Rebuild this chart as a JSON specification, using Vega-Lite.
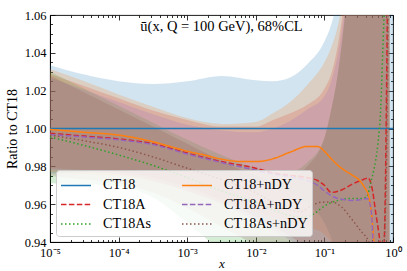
{
  "$schema": "https://vega.github.io/schema/vega-lite/v6.json",
  "width": 343,
  "height": 227,
  "autosize": {"type": "none"},
  "padding": {"left": 50, "top": 15, "right": 14, "bottom": 29},
  "background": "white",
  "config": {
    "font": "Liberation Serif",
    "view": {"stroke": "black", "strokeWidth": 0.9},
    "axis": {
      "labelFont": "Liberation Serif", "labelFontSize": 12.5, "labelColor": "black",
      "titleFont": "Liberation Serif", "titleFontSize": 14, "titleFontWeight": "normal", "titleColor": "black",
      "domainColor": "black", "domainWidth": 0.9, "ticks": false,
      "grid": true, "gridColor": "black", "gridWidth": 0.8, "gridOpacity": 1,
      "labelOverlap": false, "labelBound": false, "labelFlush": false, "zindex": 1
    },
    "legend": {
      "orient": "bottom-left", "offset": 6, "columns": 2, "columnPadding": 27, "rowPadding": 0.5, "padding": 4,
      "fillColor": "rgba(255,255,255,0.8)", "strokeColor": "#cccccc", "cornerRadius": 3,
      "symbolType": "M-1,0H2", "symbolSize": 400, "symbolStrokeWidth": 1.5,
      "labelFont": "Liberation Serif", "labelFontSize": 14.2, "labelColor": "black", "labelOffset": 21, "labelLimit": 200
    }
  },
  "title": {"text": "ū(x, Q = 100 GeV),  68%CL", "font": "Liberation Serif", "fontSize": 14.5, "fontWeight": "normal", "color": "black", "anchor": "middle", "frame": "group", "baseline": "alphabetic", "offset": -36},
  "datasets": {
    "bands": [
      {"band": "CT18", "x": 1e-5, "lo": 0.976, "hi": 1.0335},
      {"band": "CT18", "x": 3.162e-5, "lo": 0.977, "hi": 1.0285},
      {"band": "CT18", "x": 1e-4, "lo": 0.978, "hi": 1.025},
      {"band": "CT18", "x": 3.162e-4, "lo": 0.978, "hi": 1.0235},
      {"band": "CT18", "x": 1e-3, "lo": 0.977, "hi": 1.025},
      {"band": "CT18", "x": 3.162e-3, "lo": 0.975, "hi": 1.0278},
      {"band": "CT18", "x": 0.01, "lo": 0.972, "hi": 1.0255},
      {"band": "CT18", "x": 0.01778, "lo": 0.970, "hi": 1.025},
      {"band": "CT18", "x": 0.03162, "lo": 0.966, "hi": 1.027},
      {"band": "CT18", "x": 0.05623, "lo": 0.960, "hi": 1.034},
      {"band": "CT18", "x": 0.1, "lo": 0.950, "hi": 1.046},
      {"band": "CT18", "x": 0.1259, "lo": 0.942, "hi": 1.055},
      {"band": "CT18", "x": 0.1585, "lo": 0.930, "hi": 1.07},
      {"band": "CT18", "x": 0.1995, "lo": 0.915, "hi": 1.09},
      {"band": "CT18", "x": 0.2512, "lo": 0.900, "hi": 1.11},
      {"band": "CT18", "x": 0.3162, "lo": 0.880, "hi": 1.14},
      {"band": "CT18", "x": 0.3981, "lo": 0.860, "hi": 1.17},
      {"band": "CT18", "x": 0.5012, "lo": 0.840, "hi": 1.2},
      {"band": "CT18", "x": 0.631, "lo": 0.800, "hi": 1.25},
      {"band": "CT18", "x": 0.7943, "lo": 0.750, "hi": 1.3},
      {"band": "CT18", "x": 0.8913, "lo": 0.700, "hi": 1.35},
      {"band": "CT18", "x": 1.0, "lo": 0.600, "hi": 1.5},
      {"band": "CT18A", "x": 1e-5, "lo": 0.979, "hi": 1.029},
      {"band": "CT18A", "x": 3.162e-5, "lo": 0.978, "hi": 1.0225},
      {"band": "CT18A", "x": 1e-4, "lo": 0.977, "hi": 1.016},
      {"band": "CT18A", "x": 3.162e-4, "lo": 0.974, "hi": 1.0095},
      {"band": "CT18A", "x": 1e-3, "lo": 0.969, "hi": 1.0045},
      {"band": "CT18A", "x": 3.162e-3, "lo": 0.962, "hi": 1.001},
      {"band": "CT18A", "x": 0.01, "lo": 0.953, "hi": 1.001},
      {"band": "CT18A", "x": 0.01778, "lo": 0.948, "hi": 1.0045},
      {"band": "CT18A", "x": 0.03162, "lo": 0.943, "hi": 1.008},
      {"band": "CT18A", "x": 0.05623, "lo": 0.937, "hi": 1.0125},
      {"band": "CT18A", "x": 0.1, "lo": 0.930, "hi": 1.021},
      {"band": "CT18A", "x": 0.1259, "lo": 0.925, "hi": 1.029},
      {"band": "CT18A", "x": 0.1585, "lo": 0.920, "hi": 1.045},
      {"band": "CT18A", "x": 0.1995, "lo": 0.910, "hi": 1.07},
      {"band": "CT18A", "x": 0.2512, "lo": 0.900, "hi": 1.1},
      {"band": "CT18A", "x": 0.3162, "lo": 0.890, "hi": 1.13},
      {"band": "CT18A", "x": 0.3981, "lo": 0.870, "hi": 1.16},
      {"band": "CT18A", "x": 0.5012, "lo": 0.850, "hi": 1.2},
      {"band": "CT18A", "x": 0.631, "lo": 0.820, "hi": 1.25},
      {"band": "CT18A", "x": 0.7943, "lo": 0.780, "hi": 1.3},
      {"band": "CT18A", "x": 0.8913, "lo": 0.750, "hi": 1.35},
      {"band": "CT18As", "x": 1e-5, "lo": 0.971, "hi": 1.030},
      {"band": "CT18As", "x": 3.162e-5, "lo": 0.9705, "hi": 1.021},
      {"band": "CT18As", "x": 1e-4, "lo": 0.9695, "hi": 1.012},
      {"band": "CT18As", "x": 3.162e-4, "lo": 0.9635, "hi": 1.003},
      {"band": "CT18As", "x": 1e-3, "lo": 0.950, "hi": 0.994},
      {"band": "CT18As", "x": 3.162e-3, "lo": 0.935, "hi": 0.986},
      {"band": "CT18As", "x": 0.01, "lo": 0.920, "hi": 0.979},
      {"band": "CT18As", "x": 0.01778, "lo": 0.910, "hi": 0.977},
      {"band": "CT18As", "x": 0.03162, "lo": 0.900, "hi": 0.977},
      {"band": "CT18As", "x": 0.05623, "lo": 0.890, "hi": 0.982},
      {"band": "CT18As", "x": 0.1, "lo": 0.880, "hi": 0.995},
      {"band": "CT18As", "x": 0.1259, "lo": 0.870, "hi": 1.01},
      {"band": "CT18As", "x": 0.1585, "lo": 0.860, "hi": 1.03},
      {"band": "CT18As", "x": 0.1995, "lo": 0.850, "hi": 1.06},
      {"band": "CT18As", "x": 0.2512, "lo": 0.840, "hi": 1.1},
      {"band": "CT18As", "x": 0.3162, "lo": 0.820, "hi": 1.15},
      {"band": "CT18As", "x": 0.3981, "lo": 0.800, "hi": 1.2},
      {"band": "CT18As", "x": 0.5012, "lo": 0.780, "hi": 1.25},
      {"band": "CT18As", "x": 0.631, "lo": 0.750, "hi": 1.3},
      {"band": "CT18As", "x": 0.7943, "lo": 0.700, "hi": 1.35},
      {"band": "CT18As", "x": 0.8913, "lo": 0.650, "hi": 1.4},
      {"band": "CT18+nDY", "x": 1e-5, "lo": 0.977, "hi": 1.0315},
      {"band": "CT18+nDY", "x": 3.162e-5, "lo": 0.976, "hi": 1.025},
      {"band": "CT18+nDY", "x": 1e-4, "lo": 0.975, "hi": 1.018},
      {"band": "CT18+nDY", "x": 3.162e-4, "lo": 0.972, "hi": 1.0115},
      {"band": "CT18+nDY", "x": 1e-3, "lo": 0.967, "hi": 1.0055},
      {"band": "CT18+nDY", "x": 3.162e-3, "lo": 0.961, "hi": 1.0024},
      {"band": "CT18+nDY", "x": 0.01, "lo": 0.956, "hi": 1.0035},
      {"band": "CT18+nDY", "x": 0.01778, "lo": 0.953, "hi": 1.008},
      {"band": "CT18+nDY", "x": 0.03162, "lo": 0.951, "hi": 1.014},
      {"band": "CT18+nDY", "x": 0.05623, "lo": 0.948, "hi": 1.023},
      {"band": "CT18+nDY", "x": 0.1, "lo": 0.944, "hi": 1.035},
      {"band": "CT18+nDY", "x": 0.1259, "lo": 0.940, "hi": 1.043},
      {"band": "CT18+nDY", "x": 0.1585, "lo": 0.935, "hi": 1.055},
      {"band": "CT18+nDY", "x": 0.1995, "lo": 0.930, "hi": 1.075},
      {"band": "CT18+nDY", "x": 0.2512, "lo": 0.920, "hi": 1.1},
      {"band": "CT18+nDY", "x": 0.3162, "lo": 0.900, "hi": 1.13},
      {"band": "CT18+nDY", "x": 0.3981, "lo": 0.880, "hi": 1.16},
      {"band": "CT18+nDY", "x": 0.5012, "lo": 0.850, "hi": 1.2},
      {"band": "CT18+nDY", "x": 0.631, "lo": 0.800, "hi": 1.25},
      {"band": "CT18+nDY", "x": 0.7943, "lo": 0.750, "hi": 1.3},
      {"band": "CT18+nDY", "x": 0.8913, "lo": 0.700, "hi": 1.35},
      {"band": "CT18A+nDY", "x": 1e-5, "lo": 0.978, "hi": 1.027},
      {"band": "CT18A+nDY", "x": 3.162e-5, "lo": 0.977, "hi": 1.0205},
      {"band": "CT18A+nDY", "x": 1e-4, "lo": 0.976, "hi": 1.014},
      {"band": "CT18A+nDY", "x": 3.162e-4, "lo": 0.9725, "hi": 1.0075},
      {"band": "CT18A+nDY", "x": 1e-3, "lo": 0.967, "hi": 1.002},
      {"band": "CT18A+nDY", "x": 3.162e-3, "lo": 0.960, "hi": 0.999},
      {"band": "CT18A+nDY", "x": 0.01, "lo": 0.951, "hi": 0.998},
      {"band": "CT18A+nDY", "x": 0.01778, "lo": 0.946, "hi": 1.0},
      {"band": "CT18A+nDY", "x": 0.03162, "lo": 0.941, "hi": 1.004},
      {"band": "CT18A+nDY", "x": 0.05623, "lo": 0.935, "hi": 1.01},
      {"band": "CT18A+nDY", "x": 0.1, "lo": 0.928, "hi": 1.017},
      {"band": "CT18A+nDY", "x": 0.1259, "lo": 0.922, "hi": 1.025},
      {"band": "CT18A+nDY", "x": 0.1585, "lo": 0.915, "hi": 1.04},
      {"band": "CT18A+nDY", "x": 0.1995, "lo": 0.905, "hi": 1.065},
      {"band": "CT18A+nDY", "x": 0.2512, "lo": 0.895, "hi": 1.1},
      {"band": "CT18A+nDY", "x": 0.3162, "lo": 0.880, "hi": 1.13},
      {"band": "CT18A+nDY", "x": 0.3981, "lo": 0.860, "hi": 1.16},
      {"band": "CT18A+nDY", "x": 0.5012, "lo": 0.840, "hi": 1.2},
      {"band": "CT18A+nDY", "x": 0.631, "lo": 0.800, "hi": 1.25},
      {"band": "CT18A+nDY", "x": 0.7943, "lo": 0.750, "hi": 1.3},
      {"band": "CT18A+nDY", "x": 0.8913, "lo": 0.700, "hi": 1.35},
      {"band": "CT18As+nDY", "x": 1e-5, "lo": 0.975, "hi": 1.028},
      {"band": "CT18As+nDY", "x": 3.162e-5, "lo": 0.973, "hi": 1.019},
      {"band": "CT18As+nDY", "x": 1e-4, "lo": 0.971, "hi": 1.010},
      {"band": "CT18As+nDY", "x": 3.162e-4, "lo": 0.966, "hi": 1.001},
      {"band": "CT18As+nDY", "x": 1e-3, "lo": 0.958, "hi": 0.992},
      {"band": "CT18As+nDY", "x": 3.162e-3, "lo": 0.948, "hi": 0.983},
      {"band": "CT18As+nDY", "x": 0.01, "lo": 0.938, "hi": 0.975},
      {"band": "CT18As+nDY", "x": 0.01778, "lo": 0.932, "hi": 0.972},
      {"band": "CT18As+nDY", "x": 0.03162, "lo": 0.926, "hi": 0.973},
      {"band": "CT18As+nDY", "x": 0.05623, "lo": 0.920, "hi": 0.980},
      {"band": "CT18As+nDY", "x": 0.1, "lo": 0.910, "hi": 0.995},
      {"band": "CT18As+nDY", "x": 0.1259, "lo": 0.900, "hi": 1.01},
      {"band": "CT18As+nDY", "x": 0.1585, "lo": 0.890, "hi": 1.03},
      {"band": "CT18As+nDY", "x": 0.1995, "lo": 0.880, "hi": 1.06},
      {"band": "CT18As+nDY", "x": 0.2512, "lo": 0.870, "hi": 1.1},
      {"band": "CT18As+nDY", "x": 0.3162, "lo": 0.850, "hi": 1.15},
      {"band": "CT18As+nDY", "x": 0.3981, "lo": 0.830, "hi": 1.2},
      {"band": "CT18As+nDY", "x": 0.5012, "lo": 0.800, "hi": 1.25},
      {"band": "CT18As+nDY", "x": 0.631, "lo": 0.750, "hi": 1.3},
      {"band": "CT18As+nDY", "x": 0.7943, "lo": 0.700, "hi": 1.35},
      {"band": "CT18As+nDY", "x": 0.8913, "lo": 0.650, "hi": 1.4}
    ],
    "lines": [
      {"set": "CT18", "x": 1e-5, "y": 1.0},
      {"set": "CT18", "x": 1.0, "y": 1.0},
      {"set": "CT18A", "x": 1e-5, "y": 0.9975},
      {"set": "CT18A", "x": 3.162e-5, "y": 0.996},
      {"set": "CT18A", "x": 1e-4, "y": 0.9945},
      {"set": "CT18A", "x": 3.162e-4, "y": 0.992},
      {"set": "CT18A", "x": 1e-3, "y": 0.987},
      {"set": "CT18A", "x": 3.162e-3, "y": 0.9825},
      {"set": "CT18A", "x": 0.01, "y": 0.979},
      {"set": "CT18A", "x": 0.01778, "y": 0.9765},
      {"set": "CT18A", "x": 0.03162, "y": 0.9752},
      {"set": "CT18A", "x": 0.05623, "y": 0.974},
      {"set": "CT18A", "x": 0.07943, "y": 0.9725},
      {"set": "CT18A", "x": 0.1, "y": 0.970},
      {"set": "CT18A", "x": 0.1259, "y": 0.9662},
      {"set": "CT18A", "x": 0.1778, "y": 0.9675},
      {"set": "CT18A", "x": 0.2512, "y": 0.9705},
      {"set": "CT18A", "x": 0.3548, "y": 0.9728},
      {"set": "CT18A", "x": 0.4365, "y": 0.9738},
      {"set": "CT18A", "x": 0.5012, "y": 0.9675},
      {"set": "CT18A", "x": 0.5623, "y": 0.955},
      {"set": "CT18A", "x": 0.6457, "y": 0.94},
      {"set": "CT18A", "x": 0.7079, "y": 0.925},
      {"set": "CT18A", "x": 0.7586, "y": 0.95},
      {"set": "CT18A", "x": 0.7943, "y": 1.0},
      {"set": "CT18A", "x": 0.8318, "y": 1.07},
      {"set": "CT18As", "x": 1e-5, "y": 0.9955},
      {"set": "CT18As", "x": 3.162e-5, "y": 0.991},
      {"set": "CT18As", "x": 1e-4, "y": 0.986},
      {"set": "CT18As", "x": 3.162e-4, "y": 0.9805},
      {"set": "CT18As", "x": 1e-3, "y": 0.974},
      {"set": "CT18As", "x": 3.162e-3, "y": 0.967},
      {"set": "CT18As", "x": 0.01, "y": 0.961},
      {"set": "CT18As", "x": 0.01778, "y": 0.957},
      {"set": "CT18As", "x": 0.03162, "y": 0.954},
      {"set": "CT18As", "x": 0.05012, "y": 0.953},
      {"set": "CT18As", "x": 0.07079, "y": 0.955},
      {"set": "CT18As", "x": 0.1, "y": 0.959},
      {"set": "CT18As", "x": 0.1585, "y": 0.962},
      {"set": "CT18As", "x": 0.2512, "y": 0.963},
      {"set": "CT18As", "x": 0.3548, "y": 0.963},
      {"set": "CT18As", "x": 0.4169, "y": 0.964},
      {"set": "CT18As", "x": 0.4786, "y": 0.972},
      {"set": "CT18As", "x": 0.5248, "y": 0.978},
      {"set": "CT18As", "x": 0.6026, "y": 0.992},
      {"set": "CT18As", "x": 0.6607, "y": 1.01},
      {"set": "CT18As", "x": 0.7079, "y": 1.04},
      {"set": "CT18As", "x": 0.7586, "y": 1.07},
      {"set": "CT18+nDY", "x": 1e-5, "y": 0.9995},
      {"set": "CT18+nDY", "x": 3.162e-5, "y": 0.998},
      {"set": "CT18+nDY", "x": 1e-4, "y": 0.9965},
      {"set": "CT18+nDY", "x": 3.162e-4, "y": 0.993},
      {"set": "CT18+nDY", "x": 5.623e-4, "y": 0.9905},
      {"set": "CT18+nDY", "x": 1e-3, "y": 0.988},
      {"set": "CT18+nDY", "x": 1.778e-3, "y": 0.986},
      {"set": "CT18+nDY", "x": 3.162e-3, "y": 0.9838},
      {"set": "CT18+nDY", "x": 5.623e-3, "y": 0.9826},
      {"set": "CT18+nDY", "x": 0.01, "y": 0.9825},
      {"set": "CT18+nDY", "x": 0.01778, "y": 0.984},
      {"set": "CT18+nDY", "x": 0.03162, "y": 0.9875},
      {"set": "CT18+nDY", "x": 0.05623, "y": 0.9905},
      {"set": "CT18+nDY", "x": 0.07943, "y": 0.9905},
      {"set": "CT18+nDY", "x": 0.1, "y": 0.988},
      {"set": "CT18+nDY", "x": 0.1259, "y": 0.984},
      {"set": "CT18+nDY", "x": 0.1778, "y": 0.979},
      {"set": "CT18+nDY", "x": 0.2512, "y": 0.9755},
      {"set": "CT18+nDY", "x": 0.3162, "y": 0.973},
      {"set": "CT18+nDY", "x": 0.3981, "y": 0.968},
      {"set": "CT18+nDY", "x": 0.4365, "y": 0.965},
      {"set": "CT18+nDY", "x": 0.4786, "y": 0.957},
      {"set": "CT18+nDY", "x": 0.5012, "y": 0.95},
      {"set": "CT18+nDY", "x": 0.537, "y": 0.935},
      {"set": "CT18A+nDY", "x": 1e-5, "y": 0.9968},
      {"set": "CT18A+nDY", "x": 3.162e-5, "y": 0.9955},
      {"set": "CT18A+nDY", "x": 1e-4, "y": 0.994},
      {"set": "CT18A+nDY", "x": 3.162e-4, "y": 0.9915},
      {"set": "CT18A+nDY", "x": 1e-3, "y": 0.9865},
      {"set": "CT18A+nDY", "x": 3.162e-3, "y": 0.982},
      {"set": "CT18A+nDY", "x": 0.01, "y": 0.978},
      {"set": "CT18A+nDY", "x": 0.01778, "y": 0.976},
      {"set": "CT18A+nDY", "x": 0.03162, "y": 0.9745},
      {"set": "CT18A+nDY", "x": 0.05623, "y": 0.9725},
      {"set": "CT18A+nDY", "x": 0.07943, "y": 0.970},
      {"set": "CT18A+nDY", "x": 0.1, "y": 0.967},
      {"set": "CT18A+nDY", "x": 0.1259, "y": 0.9645},
      {"set": "CT18A+nDY", "x": 0.1585, "y": 0.963},
      {"set": "CT18A+nDY", "x": 0.2512, "y": 0.962},
      {"set": "CT18A+nDY", "x": 0.3548, "y": 0.9625},
      {"set": "CT18A+nDY", "x": 0.4266, "y": 0.963},
      {"set": "CT18A+nDY", "x": 0.4786, "y": 0.957},
      {"set": "CT18A+nDY", "x": 0.5129, "y": 0.94},
      {"set": "CT18A+nDY", "x": 0.537, "y": 0.92},
      {"set": "CT18As+nDY", "x": 1e-5, "y": 0.9965},
      {"set": "CT18As+nDY", "x": 3.162e-5, "y": 0.9935},
      {"set": "CT18As+nDY", "x": 1e-4, "y": 0.99},
      {"set": "CT18As+nDY", "x": 3.162e-4, "y": 0.985},
      {"set": "CT18As+nDY", "x": 1e-3, "y": 0.979},
      {"set": "CT18As+nDY", "x": 3.162e-3, "y": 0.973},
      {"set": "CT18As+nDY", "x": 0.01, "y": 0.966},
      {"set": "CT18As+nDY", "x": 0.01778, "y": 0.961},
      {"set": "CT18As+nDY", "x": 0.03162, "y": 0.957},
      {"set": "CT18As+nDY", "x": 0.04467, "y": 0.956},
      {"set": "CT18As+nDY", "x": 0.0631, "y": 0.959},
      {"set": "CT18As+nDY", "x": 0.08913, "y": 0.961},
      {"set": "CT18As+nDY", "x": 0.1259, "y": 0.9612},
      {"set": "CT18As+nDY", "x": 0.1778, "y": 0.9585},
      {"set": "CT18As+nDY", "x": 0.2512, "y": 0.952},
      {"set": "CT18As+nDY", "x": 0.3548, "y": 0.945},
      {"set": "CT18As+nDY", "x": 0.4169, "y": 0.942},
      {"set": "CT18As+nDY", "x": 0.5012, "y": 0.935},
      {"set": "CT18As+nDY", "x": 0.631, "y": 0.92},
      {"set": "CT18As+nDY", "x": 0.7079, "y": 0.93},
      {"set": "CT18As+nDY", "x": 0.7943, "y": 0.97},
      {"set": "CT18As+nDY", "x": 0.8511, "y": 1.07}
    ]
  },
  "layer": [
    {
      "data": {"name": "bands"},
      "mark": {"type": "area", "interpolate": "monotone", "clip": true, "fillOpacity": 0.2, "strokeWidth": 0},
      "encoding": {
        "x": {"field": "x", "type": "quantitative", "title": "x",
          "scale": {"type": "log", "domain": [1e-5, 1], "nice": false},
          "axis": {
            "values": [1e-5,2e-5,3e-5,4e-5,5e-5,6e-5,7e-5,8e-5,9e-5,1e-4,2e-4,3e-4,4e-4,5e-4,6e-4,7e-4,8e-4,9e-4,1e-3,2e-3,3e-3,4e-3,5e-3,6e-3,7e-3,8e-3,9e-3,0.01,0.02,0.03,0.04,0.05,0.06,0.07,0.08,0.09,0.1,0.2,0.3,0.4,0.5,0.6,0.7,0.8,0.9,1],
            "labelExpr": "abs(log(datum.value)/LN10 - round(log(datum.value)/LN10)) < 0.001 ? (round(log(datum.value)/LN10) == -5 ? '10⁻⁵' : round(log(datum.value)/LN10) == -4 ? '10⁻⁴' : round(log(datum.value)/LN10) == -3 ? '10⁻³' : round(log(datum.value)/LN10) == -2 ? '10⁻²' : round(log(datum.value)/LN10) == -1 ? '10⁻¹' : '10⁰') : ''",
            "gridDash": {"condition": {"test": "abs(log(datum.value)/LN10 - round(log(datum.value)/LN10)) < 0.001", "value": [5, 217, 5, 100]}, "value": [2.5, 222, 2.5, 100]},
            "labelPadding": 4, "titlePadding": -1, "titleFontSize": 13, "titleFontStyle": "italic"
          }},
        "y": {"field": "lo", "type": "quantitative", "stack": null, "title": "Ratio to CT18",
          "scale": {"domain": [0.94, 1.06], "nice": false, "zero": false},
          "axis": {
            "values": [0.94,0.945,0.95,0.955,0.96,0.965,0.97,0.975,0.98,0.985,0.99,0.995,1.0,1.005,1.01,1.015,1.02,1.025,1.03,1.035,1.04,1.045,1.05,1.055,1.06],
            "labelExpr": "abs(datum.value*50 - round(datum.value*50)) < 0.001 ? format(datum.value, '.2f') : ''",
            "gridDash": {"condition": {"test": "abs(datum.value*50 - round(datum.value*50)) < 0.001", "value": [5, 333, 5, 100]}, "value": [2.5, 338, 2.5, 100]},
            "labelPadding": 4, "titlePadding": 5
          }},
        "y2": {"field": "hi"},
        "fill": {"field": "band", "type": "nominal", "legend": null,
          "scale": {"domain": ["CT18", "CT18+nDY", "CT18A", "CT18A+nDY", "CT18As", "CT18As+nDY"],
                    "range": ["#1f77b4", "#ff7f0e", "#d62728", "#9467bd", "#2ca02c", "#8c564b"]}}
      }
    },
    {
      "data": {"name": "lines"},
      "mark": {"type": "line", "interpolate": "monotone", "clip": true, "strokeWidth": 1.5},
      "encoding": {
        "x": {"field": "x", "type": "quantitative", "title": "x",
          "scale": {"type": "log", "domain": [1e-5, 1], "nice": false},
          "axis": {
            "values": [1e-5,2e-5,3e-5,4e-5,5e-5,6e-5,7e-5,8e-5,9e-5,1e-4,2e-4,3e-4,4e-4,5e-4,6e-4,7e-4,8e-4,9e-4,1e-3,2e-3,3e-3,4e-3,5e-3,6e-3,7e-3,8e-3,9e-3,0.01,0.02,0.03,0.04,0.05,0.06,0.07,0.08,0.09,0.1,0.2,0.3,0.4,0.5,0.6,0.7,0.8,0.9,1],
            "labelExpr": "abs(log(datum.value)/LN10 - round(log(datum.value)/LN10)) < 0.001 ? (round(log(datum.value)/LN10) == -5 ? '10⁻⁵' : round(log(datum.value)/LN10) == -4 ? '10⁻⁴' : round(log(datum.value)/LN10) == -3 ? '10⁻³' : round(log(datum.value)/LN10) == -2 ? '10⁻²' : round(log(datum.value)/LN10) == -1 ? '10⁻¹' : '10⁰') : ''",
            "gridDash": {"condition": {"test": "abs(log(datum.value)/LN10 - round(log(datum.value)/LN10)) < 0.001", "value": [5, 217, 5, 100]}, "value": [2.5, 222, 2.5, 100]},
            "labelPadding": 4, "titlePadding": -1, "titleFontSize": 13, "titleFontStyle": "italic"
          }},
        "y": {"field": "y", "type": "quantitative", "title": "Ratio to CT18",
          "scale": {"domain": [0.94, 1.06], "nice": false, "zero": false},
          "axis": {
            "values": [0.94,0.945,0.95,0.955,0.96,0.965,0.97,0.975,0.98,0.985,0.99,0.995,1.0,1.005,1.01,1.015,1.02,1.025,1.03,1.035,1.04,1.045,1.05,1.055,1.06],
            "labelExpr": "abs(datum.value*50 - round(datum.value*50)) < 0.001 ? format(datum.value, '.2f') : ''",
            "gridDash": {"condition": {"test": "abs(datum.value*50 - round(datum.value*50)) < 0.001", "value": [5, 333, 5, 100]}, "value": [2.5, 338, 2.5, 100]},
            "labelPadding": 4, "titlePadding": 5
          }},
        "color": {"field": "set", "type": "nominal", "legend": {"title": null},
          "scale": {"domain": ["CT18", "CT18A", "CT18As", "CT18+nDY", "CT18A+nDY", "CT18As+nDY"],
                    "range": ["#1f77b4", "#d62728", "#2ca02c", "#ff7f0e", "#9467bd", "#8c564b"]}},
        "strokeDash": {"field": "set", "type": "nominal", "legend": {"title": null},
          "scale": {"domain": ["CT18", "CT18A", "CT18As", "CT18+nDY", "CT18A+nDY", "CT18As+nDY"],
                    "range": [[1, 0], [5.5, 2.4], [1.5, 2.5], [1, 0], [5.5, 2.4], [1.5, 2.5]]}}
      }
    }
  ]
}
